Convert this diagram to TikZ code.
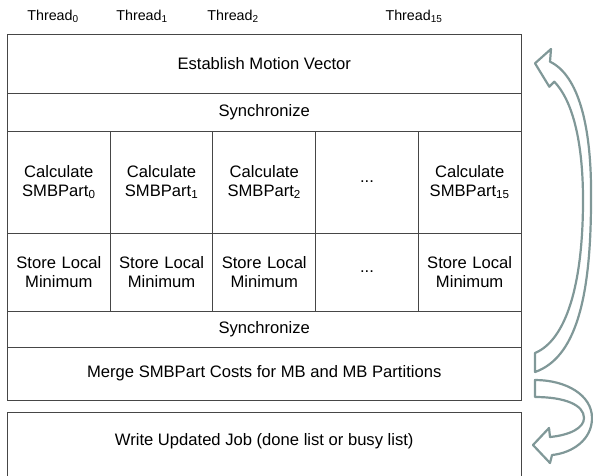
\documentclass[tikz,border=0pt]{standalone}
\usepackage{fontspec}
\setmainfont{Liberation Sans}
\definecolor{gridline}{RGB}{70,70,70}
\definecolor{arrowline}{RGB}{128,152,152}
\tikzset{
  cell/.style={draw=gridline, line width=1pt, inner sep=0pt, align=center,
    font=\fontsize{16.6}{19}\selectfont},
  rowcell/.style={cell, minimum width=513.5pt},
  colcell/.style={cell, minimum width=102.7pt, text width=98pt},
  thread/.style={inner sep=0pt, font=\fontsize{14.3}{16}\selectfont},
  label/.style={inner sep=0pt, align=center, font=\fontsize{16.6}{19}\selectfont},
  bentarrow/.style={draw=arrowline, fill=white, line width=2.2pt, line join=round}
}
\begin{document}
\begin{tikzpicture}[x=1pt,y=-1pt]
\useasboundingbox (0,0) rectangle (593,475);
\clip (0,0) rectangle (593,475);

% thread headings
\node[thread] (t0)  at (53,16)  {Thread\textsubscript{0}};
\node[thread] (t1)  at (142,16) {Thread\textsubscript{1}};
\node[thread] (t2)  at (233,16) {Thread\textsubscript{2}};
\node[thread] (t15) at (414,16) {Thread\textsubscript{15}};

% full-width stages
\node[rowcell, minimum height=59pt] (est)   at (264.25,63.5)  {Establish Motion Vector};
\node[rowcell, minimum height=38pt] (sync1) at (264.25,112)   {Synchronize};
\node[rowcell, minimum height=36pt] (sync2) at (264.25,329)   {Synchronize};
\node[rowcell, minimum height=53pt] (merge) at (264.25,373.5) {Merge SMBPart Costs for MB and MB Partitions};

% per-thread stages
\node[colcell, minimum height=102pt] (c0) at (58.85,182)  {Calculate\\SMBPart\textsubscript{0}};
\node[colcell, minimum height=102pt] (c1) at (161.55,182) {Calculate\\SMBPart\textsubscript{1}};
\node[colcell, minimum height=102pt] (c2) at (264.25,182) {Calculate\\SMBPart\textsubscript{2}};
\node[colcell, minimum height=102pt] (c3) at (366.95,182) {...};
\node[colcell, minimum height=102pt] (c4) at (469.65,182) {Calculate\\SMBPart\textsubscript{15}};

\node[colcell, minimum height=78pt] (s0) at (58.85,272)  {Store Local\\Minimum};
\node[colcell, minimum height=78pt] (s1) at (161.55,272) {Store Local\\Minimum};
\node[colcell, minimum height=78pt] (s2) at (264.25,272) {Store Local\\Minimum};
\node[colcell, minimum height=78pt] (s3) at (366.95,272) {...};
\node[colcell, minimum height=78pt] (s4) at (469.65,272) {Store Local\\Minimum};

% job write-back box, open at the bottom edge
\node[rowcell, minimum height=75pt, anchor=north] (write) at (264.25,412) {};
\node[label] (writetxt) at (264.25,441) {Write Updated Job (done list or busy list)};

% loop back to the top
\draw[bentarrow] (535,63.3) -- (551,49) -- (550,61.7)
  .. controls (578,75) and (592,125) .. (591,200)
  .. controls (591,300) and (575,358) .. (535,372)
  -- (535,353)
  .. controls (566,340) and (583,285) .. (583,200)
  .. controls (583,140) and (572,100) .. (554.3,81.7)
  -- (549.3,86.7) -- cycle;

% on to the write-back
\draw[bentarrow] (535,380)
  .. controls (566,380) and (592,395) .. (592,418)
  .. controls (592,440) and (572,453) .. (552,455)
  -- (550,463) -- (533,445) -- (549,428) -- (550,437)
  .. controls (570,435) and (584,428) .. (584,418)
  .. controls (584,405) and (565,397) .. (535,397)
  -- cycle;
\end{tikzpicture}
\end{document}
